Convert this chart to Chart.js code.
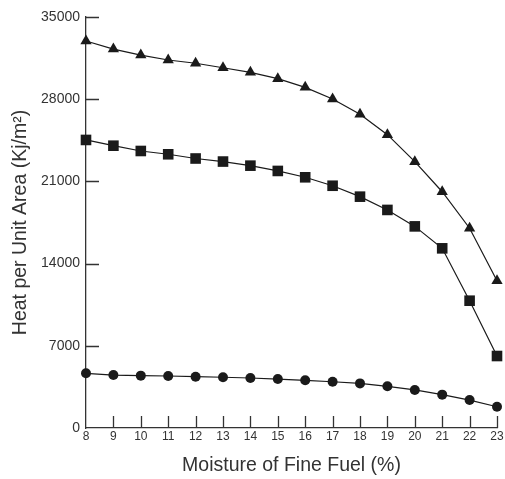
<!DOCTYPE html>
<html lang="en">
<head>
    <meta charset="UTF-8">
    <title>Heat per Unit Area vs Moisture of Fine Fuel</title>
    <script src="https://cdn.jsdelivr.net/npm/chart.js@4/dist/chart.umd.min.js"></script>
    <style>
        body {
            margin: 0;
            background: #ffffff;
        }
        .chart-box {
            width: 505px;
            height: 479px;
        }
    </style>
</head>
<body>
    <div class="chart-box">
        <canvas id="heatChart"></canvas>
    </div>

    <script>
        // moisture of fine fuel (%)
        const moisture = [8, 9, 10, 11, 12, 13, 14, 15, 16, 17, 18, 19, 20, 21, 22, 23];

        // heat per unit area (kJ/m2)
        const heatTriangle = [32960, 32270, 31760, 31340, 31060, 30680, 30290, 29750,
                              29010, 28020, 26710, 24980, 22680, 20120, 17010, 12540];
        const heatSquare = [24530, 24040, 23590, 23310, 22950, 22690, 22340, 21890,
                            21350, 20630, 19700, 18570, 17170, 15300, 10840, 6130];
        const heatCircle = [4660, 4510, 4460, 4430, 4370, 4320, 4260, 4170,
                            4060, 3940, 3800, 3550, 3240, 2840, 2380, 1810];

        const yTicks = [0, 7000, 14000, 21000, 28000, 35000];

        const ink = '#1a1a1a';
        const axisColor = '#333333';
        const fontFamily = "'Liberation Sans', Arial, Helvetica, sans-serif";

        function toPoints(values) {
            return moisture.map((m, i) => ({ x: m, y: values[i] }));
        }

        function series(values, style, radius) {
            return {
                data: toPoints(values),
                borderColor: ink,
                borderWidth: 1.2,
                backgroundColor: ink,
                pointBackgroundColor: ink,
                pointBorderColor: ink,
                pointBorderWidth: 0,
                pointStyle: style,
                pointRadius: radius,
                tension: 0,
                clip: false
            };
        }

        // small ticks pointing into the plot area
        const innerTicks = {
            id: 'innerTicks',
            afterDraw(chart) {
                const ctx = chart.ctx;
                const xs = chart.scales.x;
                const ys = chart.scales.y;
                ctx.save();
                ctx.strokeStyle = axisColor;
                ctx.lineWidth = 1.3;
                ctx.beginPath();
                yTicks.forEach(v => {
                    if (v === 0) return;
                    const py = Math.round(ys.getPixelForValue(v)) + 0.5;
                    ctx.moveTo(xs.left, py);
                    ctx.lineTo(xs.left + 13, py);
                });
                moisture.forEach(m => {
                    if (m === moisture[0]) return;
                    const px = Math.round(xs.getPixelForValue(m)) + 0.5;
                    ctx.moveTo(px, ys.bottom);
                    ctx.lineTo(px, ys.bottom - 12);
                });
                ctx.stroke();
                ctx.restore();
            }
        };

        const ctx = document.getElementById('heatChart').getContext('2d');
        new Chart(ctx, {
            type: 'line',
            data: {
                datasets: [
                    series(heatTriangle, 'triangle', 6.5),
                    series(heatSquare, 'rect', 7.5),
                    series(heatCircle, 'circle', 5)
                ]
            },
            options: {
                responsive: true,
                maintainAspectRatio: false,
                animation: false,
                layout: {
                    padding: { top: 17, right: 8, left: 0, bottom: 0 }
                },
                plugins: {
                    legend: { display: false },
                    tooltip: { enabled: false }
                },
                scales: {
                    x: {
                        type: 'linear',
                        min: 8,
                        max: 23,
                        afterFit(scale) { scale.height = 51; },
                        grid: { drawOnChartArea: false, drawTicks: false },
                        border: { display: true, color: axisColor, width: 1.3 },
                        ticks: {
                            stepSize: 1,
                            padding: 1,
                            color: '#333',
                            font: { family: fontFamily, size: 12 },
                            callback: v => String(v)
                        },
                        title: {
                            display: true,
                            text: 'Moisture of Fine Fuel (%)',
                            color: '#333',
                            padding: { top: 0, bottom: 2 },
                            font: { family: fontFamily, size: 19.5 }
                        }
                    },
                    y: {
                        min: 0,
                        max: 35000,
                        afterFit(scale) { scale.width = 86; },
                        grid: { drawOnChartArea: false, drawTicks: false },
                        border: { display: true, color: axisColor, width: 1.3 },
                        ticks: {
                            stepSize: 7000,
                            padding: 6,
                            color: '#333',
                            font: { family: fontFamily, size: 14 },
                            callback: v => String(v)
                        },
                        title: {
                            display: true,
                            text: 'Heat per Unit Area (Kj/m²)',
                            color: '#333',
                            padding: { top: 9, bottom: 0 },
                            font: { family: fontFamily, size: 19.5 }
                        }
                    }
                }
            },
            plugins: [innerTicks]
        });
    </script>
</body>
</html>
